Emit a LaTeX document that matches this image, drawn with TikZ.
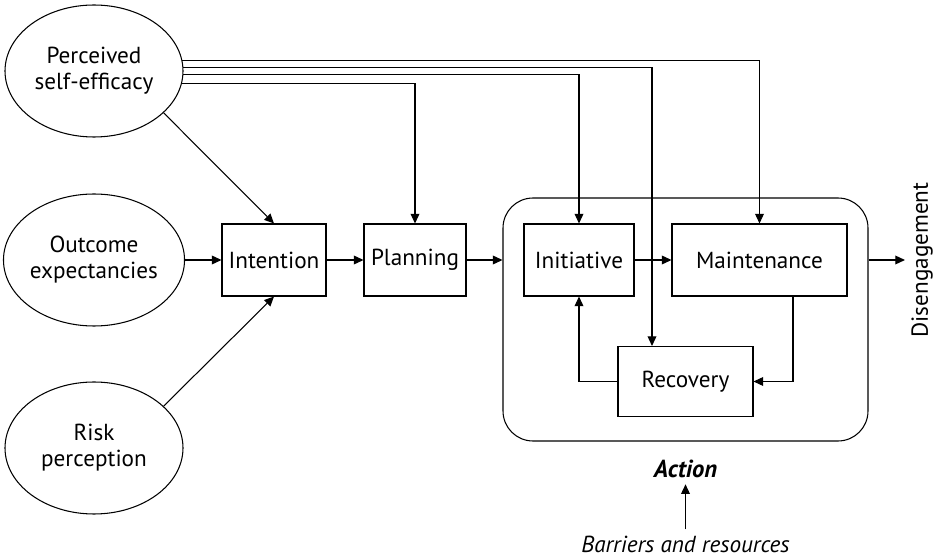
\documentclass[tikz,border=0pt]{standalone}
\usepackage{fontspec}
\setmainfont{PT Sans}
\usepackage{tikz}
\usetikzlibrary{shapes.geometric, arrows.meta, positioning}
\tikzstyle{factor} = [ellipse, minimum width=3.56cm, minimum height=2.64cm, inner sep=0pt, align=center, draw=black]
\tikzstyle{stage} = [rectangle, minimum height=1.44cm, text centered, draw=black]
\tikzstyle{phase} = [rectangle, rounded corners=0.6cm, minimum width=7.3cm, minimum height=4.86cm, draw=black]
\tikzstyle{arrow} = [->, >={Triangle[length=5.5pt, width=5pt]}]

\begin{document}
\begin{tikzpicture}[node distance=2cm, line width=0.6pt, font=\fontsize{13.2}{14.8}\selectfont]
    \useasboundingbox (0,0) rectangle (18.78,-11.12);
    \node (outcome) [factor] at (1.88,-5.2) {Outcome\\expectancies};
    \node (perceived) [factor, above of=outcome, yshift=1.78cm] {Perceived\\self-efficacy};
    \node (risk) [factor, below of=outcome, yshift=-1.76cm] {Risk\\perception};
    \node (intention) [stage, minimum width=2.08cm, right of=outcome, xshift=1.6cm] {Intention};
    \node (planning) [stage, minimum width=2.04cm, right of=intention, xshift=0.82cm] {Planning};
    \node (action) [phase, right of=planning, xshift=3.41cm, yshift=-1.19cm] {};
    \node (initiative) [stage, minimum width=2.2cm, right of=planning, xshift=1.28cm] {Initiative};
    \node (maintenance) [stage, minimum width=3.5cm, right of=initiative, xshift=1.61cm] {Maintenance};
    \node (recovery) [stage, minimum width=2.7cm, minimum height=1.4cm, below of=maintenance, xshift=-1.48cm, yshift=-0.43cm] {Recovery};
    \node (diseng) [right of=maintenance, xshift=1.25cm, rotate=90] {Disengagement};
    \node (actionlabel) [below of=action, yshift=-0.99cm, font=\fontsize{14}{16}\selectfont\bfseries\itshape] {Action};
    \node (barriers) [below of=actionlabel, yshift=0.5cm, font=\fontsize{13.2}{14.8}\selectfont\itshape] {Barriers and resources};

    \draw [arrow] (outcome) -- (intention);
    \draw [arrow] (intention) -- (planning);
    \draw [arrow] (planning) -- (planning -| action.west);
    \draw [arrow] (initiative) -- (maintenance);
    \draw [arrow] (maintenance -| action.east) -- (diseng);
    \draw [arrow] (perceived.-31) -- (intention.north);
    \draw [arrow] (risk.31) -- (intention.south);
    \draw [arrow] (perceived.7) -| (maintenance.north);
    \draw [arrow] (perceived.2) -| ([xshift=-0.67cm]recovery.north);
    \draw [arrow] (perceived.-2.6) -| (initiative.north);
    \draw [arrow] (perceived.-8) -| (planning.north);
    \draw [arrow] ([xshift=0.67cm]maintenance.south) |- (recovery.east);
    \draw [arrow] (recovery.west) -| (initiative.south);
    \draw [arrow] (barriers) -- (actionlabel);
\end{tikzpicture}
\end{document}
